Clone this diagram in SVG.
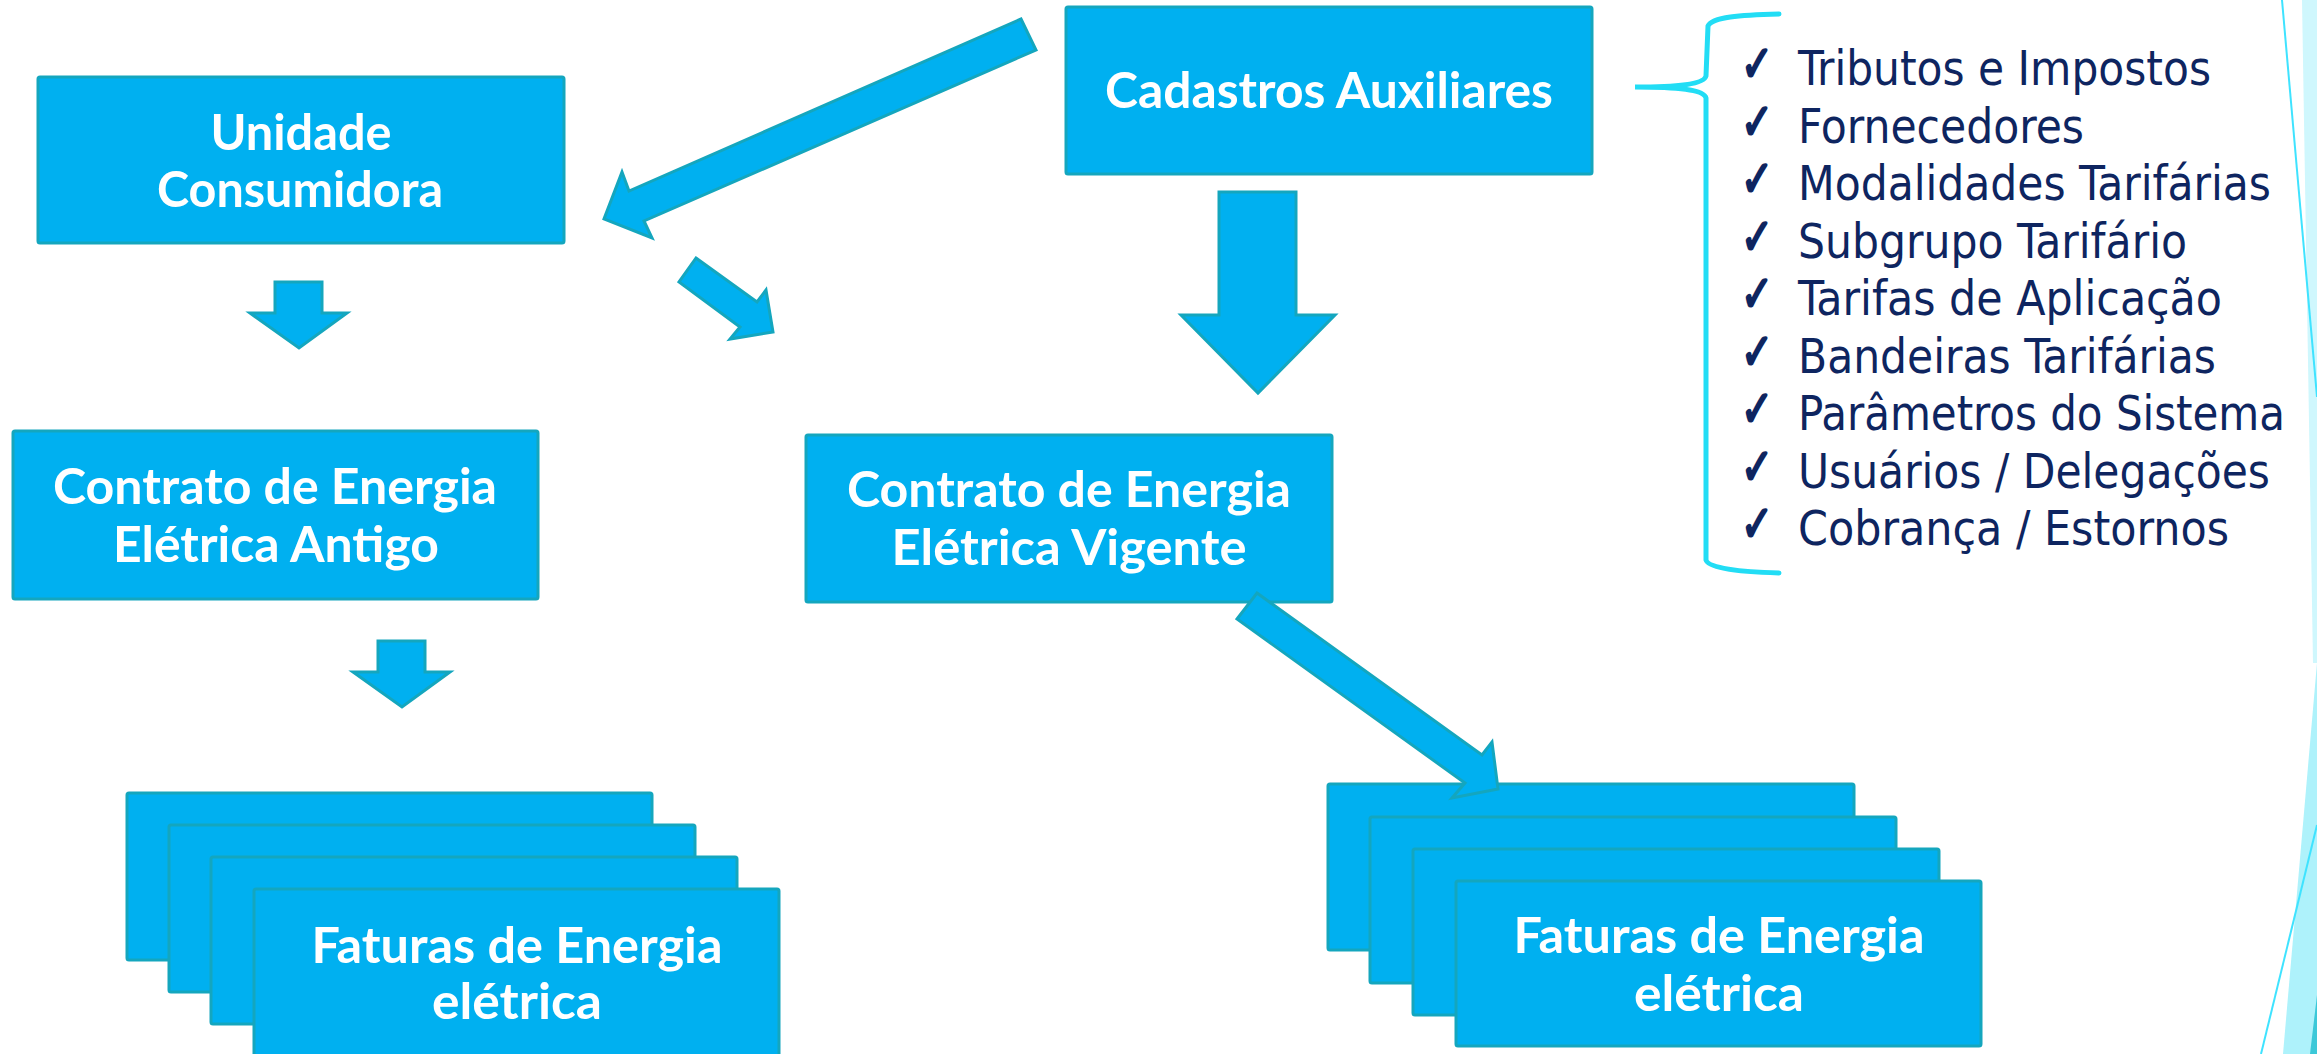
<svg xmlns="http://www.w3.org/2000/svg" width="2317" height="1054" viewBox="0 0 2317 1054">
<style>
.box{fill:#00B0F0;stroke:#14A6BE;stroke-width:3}
.arr{fill:#00B0F0;stroke:#14A6BE;stroke-width:3;stroke-linejoin:miter}
.bt{font-family:Lato,"Liberation Sans",sans-serif;font-weight:700;font-size:49px;fill:#FFFFFF;text-anchor:middle}
.li{font-family:"DejaVu Sans Condensed","DejaVu Sans","Liberation Sans",sans-serif;font-stretch:condensed;font-size:48px;fill:#0E2560}
.ck{font-family:"DejaVu Sans",sans-serif;font-size:50px;fill:#0E2560;stroke:#0E2560;stroke-width:2.5;stroke-linejoin:round}
</style>
<rect width="2317" height="1054" fill="#FFFFFF"/>
<g id="decor">
<polygon points="2302,0 2317,0 2317,663 2313,663" fill="#CFF7FD"/>
<polygon points="2283,1054 2317,1054 2317,663" fill="#AEF2FB"/>
<polygon points="2310,1054 2317,1054 2317,995" fill="#3CC8D8"/>
<line x1="2282" y1="0" x2="2317" y2="397" stroke="#3FE3FF" stroke-width="2"/>
<line x1="2261" y1="1054" x2="2317" y2="825" stroke="#3FE3FF" stroke-width="2"/>
</g>
<g id="unidade">
<rect class="box" x="38" y="77" width="526" height="166" rx="2"/>
<text class="bt" x="301" y="150" textLength="181" lengthAdjust="spacingAndGlyphs">Unidade</text>
<text class="bt" x="300" y="207" textLength="286" lengthAdjust="spacingAndGlyphs">Consumidora</text>
</g>
<g id="cadastros">
<rect class="box" x="1066" y="7" width="526" height="167" rx="2"/>
<text class="bt" x="1329" y="108" textLength="448" lengthAdjust="spacingAndGlyphs">Cadastros Auxiliares</text>
</g>
<g id="contrato-antigo">
<rect class="box" x="13" y="431" width="525" height="168" rx="2"/>
<text class="bt" x="275" y="504" textLength="444" lengthAdjust="spacingAndGlyphs">Contrato de Energia</text>
<text class="bt" x="276" y="562" textLength="326" lengthAdjust="spacingAndGlyphs">Elétrica Antigo</text>
</g>
<g id="contrato-vigente">
<rect class="box" x="806" y="435" width="526" height="167" rx="2"/>
<text class="bt" x="1069" y="507" textLength="444" lengthAdjust="spacingAndGlyphs">Contrato de Energia</text>
<text class="bt" x="1069" y="565" textLength="355" lengthAdjust="spacingAndGlyphs">Elétrica Vigente</text>
</g>
<g id="faturas-antigo">
<rect class="box" x="127" y="793" width="525" height="167" rx="2"/>
<rect class="box" x="169" y="825" width="526" height="167" rx="2"/>
<rect class="box" x="211" y="857" width="526" height="167" rx="2"/>
<rect class="box" x="254" y="889" width="525" height="167" rx="2"/>
<text class="bt" x="517" y="963" textLength="411" lengthAdjust="spacingAndGlyphs">Faturas de Energia</text>
<text class="bt" x="517" y="1019" textLength="170" lengthAdjust="spacingAndGlyphs">elétrica</text>
</g>
<g id="faturas-vigente">
<rect class="box" x="1328" y="784" width="526" height="166" rx="2"/>
<rect class="box" x="1370" y="817" width="526" height="166" rx="2"/>
<rect class="box" x="1413" y="849" width="526" height="166" rx="2"/>
<rect class="box" x="1456" y="881" width="525" height="165" rx="2"/>
<text class="bt" x="1719" y="953" textLength="411" lengthAdjust="spacingAndGlyphs">Faturas de Energia</text>
<text class="bt" x="1719" y="1011" textLength="170" lengthAdjust="spacingAndGlyphs">elétrica</text>
</g>
<g id="lista">
<path d="M1779,14 C1740,15 1712,17 1708,26 L1706,76 C1704,84 1680,87 1635,87 C1680,87 1704,90 1706,98 L1706,560 C1708,568 1740,572 1779,573" fill="none" stroke="#22DDF5" stroke-width="5" stroke-linecap="round"/>
<text class="ck" x="1741" y="81" textLength="32" lengthAdjust="spacingAndGlyphs">✓</text>
<text class="ck" x="1741" y="138.5" textLength="32" lengthAdjust="spacingAndGlyphs">✓</text>
<text class="ck" x="1741" y="196" textLength="32" lengthAdjust="spacingAndGlyphs">✓</text>
<text class="ck" x="1741" y="253.5" textLength="32" lengthAdjust="spacingAndGlyphs">✓</text>
<text class="ck" x="1741" y="311" textLength="32" lengthAdjust="spacingAndGlyphs">✓</text>
<text class="ck" x="1741" y="368.5" textLength="32" lengthAdjust="spacingAndGlyphs">✓</text>
<text class="ck" x="1741" y="426" textLength="32" lengthAdjust="spacingAndGlyphs">✓</text>
<text class="ck" x="1741" y="483.5" textLength="32" lengthAdjust="spacingAndGlyphs">✓</text>
<text class="ck" x="1741" y="541" textLength="32" lengthAdjust="spacingAndGlyphs">✓</text>
<text class="li" x="1798" y="85" textLength="413" lengthAdjust="spacingAndGlyphs">Tributos e Impostos</text>
<text class="li" x="1798" y="142.5" textLength="286" lengthAdjust="spacingAndGlyphs">Fornecedores</text>
<text class="li" x="1798" y="200" textLength="473" lengthAdjust="spacingAndGlyphs">Modalidades Tarifárias</text>
<text class="li" x="1798" y="257.5" textLength="389" lengthAdjust="spacingAndGlyphs">Subgrupo Tarifário</text>
<text class="li" x="1798" y="315" textLength="424" lengthAdjust="spacingAndGlyphs">Tarifas de Aplicação</text>
<text class="li" x="1798" y="372.5" textLength="418" lengthAdjust="spacingAndGlyphs">Bandeiras Tarifárias</text>
<text class="li" x="1798" y="430" textLength="487" lengthAdjust="spacingAndGlyphs">Parâmetros do Sistema</text>
<text class="li" x="1798" y="487.5" textLength="472" lengthAdjust="spacingAndGlyphs">Usuários / Delegações</text>
<text class="li" x="1798" y="545" textLength="431" lengthAdjust="spacingAndGlyphs">Cobrança / Estornos</text>
</g>
<g id="connectors">
<polygon class="arr" points="1021,19 1036,50 644,221 652,238 604,219 622,172 629,191"/>
<polygon class="arr" points="696,258 757,302 766,290 773,332 730,339 740,327 679,282"/>
<polygon class="arr" points="275,282 322,282 322,313 347,313 299,348 250,313 275,313"/>
<polygon class="arr" points="378,641 425,641 425,672 450,672 402,707 353,672 378,672"/>
<polygon class="arr" points="1219,192 1296,192 1296,315 1335,315 1258,393 1181,315 1219,315"/>
<polygon class="arr" points="1257,593 1482,755 1492,742 1498,789 1452,798 1465,783 1237,619"/>
</g>
</svg>
